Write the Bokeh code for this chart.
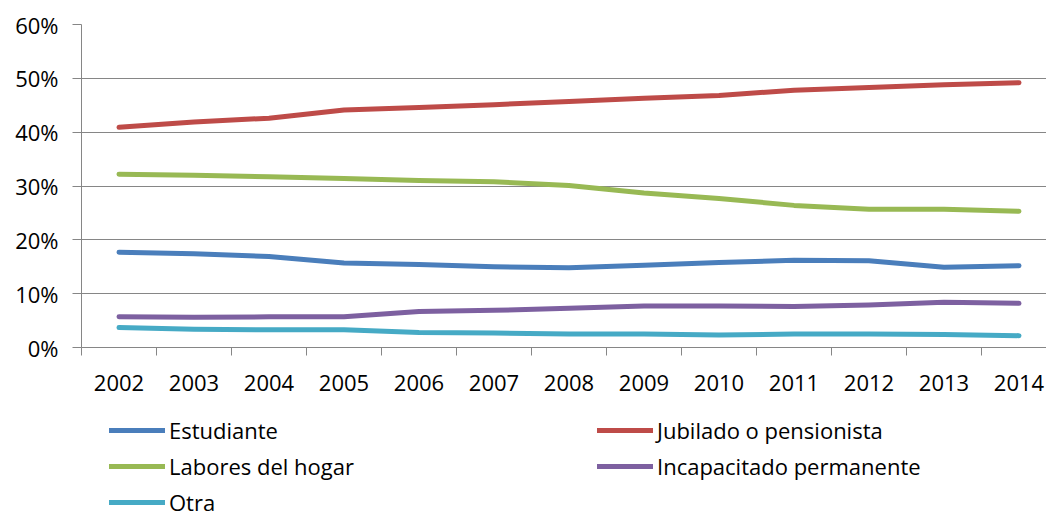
from bokeh.plotting import figure
from bokeh.layouts import column
from bokeh.models import (Range1d, FixedTicker, NumeralTickFormatter, Legend, LegendItem)
from bokeh.embed import file_html
from bokeh.resources import INLINE

years = [2002, 2003, 2004, 2005, 2006, 2007, 2008, 2009, 2010, 2011, 2012, 2013, 2014]
estudiante = [17.7, 17.4, 16.9, 15.7, 15.4, 15.0, 14.8, 15.3, 15.8, 16.2, 16.1, 14.9, 15.2]
jubilado = [40.9, 41.9, 42.6, 44.1, 44.6, 45.1, 45.7, 46.3, 46.8, 47.8, 48.3, 48.8, 49.2]
labores = [32.2, 32.0, 31.7, 31.4, 31.0, 30.8, 30.1, 28.7, 27.7, 26.4, 25.7, 25.7, 25.3]
incapacitado = [5.7, 5.6, 5.7, 5.7, 6.7, 6.9, 7.3, 7.7, 7.7, 7.6, 7.9, 8.4, 8.2]
otra = [3.7, 3.4, 3.3, 3.3, 2.8, 2.7, 2.5, 2.5, 2.3, 2.5, 2.5, 2.4, 2.2]
y_ticks = [0, 10, 20, 30, 40, 50, 60]

names = ["Estudiante", "Jubilado o pensionista", "Labores del hogar",
         "Incapacitado permanente", "Otra"]
series = [estudiante, jubilado, labores, incapacitado, otra]
colors = ["#4A7EBB", "#BE4B48", "#98B954", "#7D60A0", "#46AAC5"]

FONT = "Open Sans"
FS = "22px"
GRID = "#868686"

W = 1046
p = figure(width=W, height=400, output_backend="svg", toolbar_location=None,
           min_border_left=81, min_border_right=0, min_border_top=24,
           min_border_bottom=53)
p.outline_line_color = None
p.x_range = Range1d(years[0] - 0.5, years[0] - 0.5 + 965 / 75)
p.y_range = Range1d(0, 0.6)

xa = p.xaxis[0]
xa.ticker = FixedTicker(ticks=years, minor_ticks=[y - 0.5 for y in years])
xa.major_tick_out = 0
xa.major_tick_in = 0
xa.minor_tick_out = 8
xa.minor_tick_in = 0
xa.minor_tick_line_color = GRID
xa.axis_line_color = GRID
xa.major_label_standoff = 19
xa.major_label_text_font = FONT
xa.major_label_text_font_size = FS
xa.major_label_text_color = "#000000"

ya = p.yaxis[0]
ya.ticker = FixedTicker(ticks=[t / 100 for t in y_ticks], minor_ticks=[])
ya.formatter = NumeralTickFormatter(format="0%")
ya.major_tick_out = 9
ya.major_tick_in = 0
ya.major_tick_line_color = GRID
ya.axis_line_color = GRID
ya.major_label_standoff = 14
ya.major_label_text_font = FONT
ya.major_label_text_font_size = FS
ya.major_label_text_color = "#000000"

p.xgrid.grid_line_color = None
p.ygrid.grid_line_color = GRID
p.ygrid.ticker = FixedTicker(ticks=[t / 100 for t in y_ticks])

for name, vals, c in zip(names, series, colors):
    p.line(years, [v / 100 for v in vals], line_color=c, line_width=5,
           line_cap="round", line_join="round")

# legend panel (series drawn off-range so only legend glyphs show)
lp = figure(width=W, height=117, output_backend="svg", toolbar_location=None,
            min_border=0, x_range=(0, 1), y_range=(1000, 1001))
lp.axis.visible = False
lp.grid.grid_line_color = None
lp.outline_line_color = None
leg_r = []
for vals, c in zip(series, colors):
    leg_r.append(lp.line(years, vals, line_color=c, line_width=5, line_cap="round"))

def mk_legend(idx, x, y):
    lg = Legend(items=[LegendItem(label=names[i], renderers=[leg_r[i]]) for i in idx],
                location=(x, y), orientation="vertical",
                glyph_width=56, glyph_height=20, label_height=20,
                label_standoff=4, spacing=6, padding=0, margin=0,
                border_line_color=None, background_fill_alpha=0,
                label_text_font=FONT, label_text_font_size=FS,
                label_text_color="#000000")
    lp.add_layout(lg, "center")

mk_legend([0, 2, 4], 28, 0)
mk_legend([1, 3], 516, 36)

layout = column(p, lp, spacing=0)
open("out.html", "w").write(file_html(layout, INLINE))
